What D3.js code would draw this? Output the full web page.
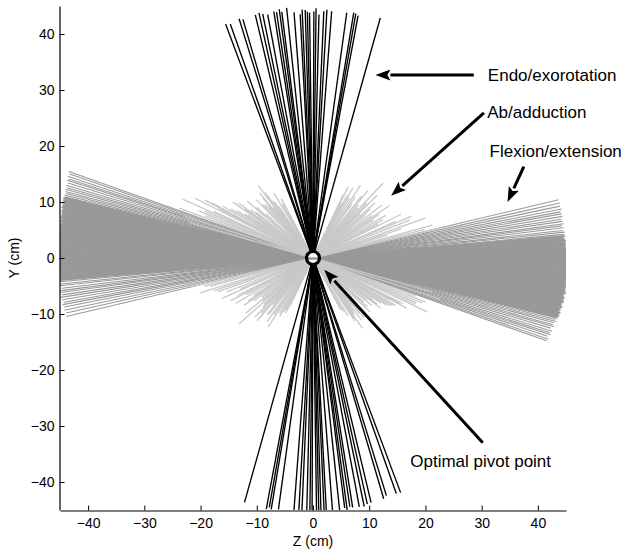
<!DOCTYPE html>
<html>
<head>
<meta charset="utf-8">
<script src="https://cdn.jsdelivr.net/npm/d3@7"></script>
<style>
  html, body { margin: 0; padding: 0; background: #fff; }
  svg { display: block; }
  text { font-family: "Liberation Sans", Arial, Helvetica, sans-serif; fill: #000; }
</style>
</head>
<body>
<svg id="chart" width="623" height="550"></svg>
<script>
// ---------------- DATA ----------------
const xTicks = [-40, -30, -20, -10, 0, 10, 20, 30, 40];
const yTicks = [-40, -30, -20, -10, 0, 10, 20, 30, 40];
const xLabel = "Z (cm)";
const yLabel = "Y (cm)";

// Flexion/extension (dark gray): slope angle in degrees, half-length to right end, half-length to left end (cm)
const flexAngle = [
  -19.6,-19.1,-18.5,-18.0,-17.6,-17.1,-16.5,-16.0,-15.6,-15.1,-14.7,-14.3,
  -13.8,-13.5,-13.3,-13.0,-12.8,-12.5,-12.3,-12.0,-11.8,-11.5,-11.2,-11.0,-10.7,-10.5,-10.2,-10.0,
  -9.7,-9.5,-9.2,-9.0,-8.7,-8.4,-8.2,-7.9,-7.7,-7.4,-7.2,
  -6.9,-6.6,-6.4,-6.1,-5.9,-5.6,-5.4,-5.1,-4.9,-4.6,-4.3,-4.1,
  -3.8,-3.6,-3.3,-3.1,-2.8,-2.5,-2.3,-2.0,-1.8,-1.5,-1.3,-1.0,-0.8,-0.5,-0.2,
  0.0,0.3,0.5,0.8,1.0,1.3,1.6,1.8,2.1,2.3,2.6,2.9,3.1,3.4,3.6,3.9,4.2,4.4,4.7,5.0,
  5.4,5.9,6.3,6.9,7.4,7.8,8.4,8.9,9.5,10.1,10.6,11.2,11.9,12.6,13.4
];
const flexRightLen = [
  44.1,44.3,44.0,44.4,44.2,44.5,44.1,44.6,44.3,44.4,44.7,44.5,
  44.8,44.6,45.0,44.7,44.9,45.1,44.6,44.8,45.0,44.7,45.2,44.9,45.0,44.8,45.1,45.3,
  44.9,45.2,45.0,45.3,45.1,44.9,45.2,45.4,45.0,45.3,45.1,
  45.2,45.4,45.0,45.3,45.1,45.4,45.2,45.0,45.3,45.4,45.1,45.2,
  45.3,45.0,45.4,45.2,45.1,45.3,45.4,45.2,45.0,45.3,45.1,45.4,45.2,45.3,45.1,
  45.2,45.4,45.0,45.3,45.1,45.2,44.9,45.3,45.0,45.2,44.8,45.1,44.9,45.0,44.7,45.1,44.8,44.9,44.6,45.0,
  44.8,45.0,44.7,44.9,44.6,45.0,44.8,44.7,45.0,44.9,44.8,45.1,44.9,45.0,44.9
];
const flexLeftLen = [
  46.1,45.8,46.0,45.7,45.9,45.6,45.8,45.5,45.7,45.6,45.4,45.6,
  45.5,45.7,45.3,45.6,45.4,45.6,45.2,45.5,45.3,45.6,45.4,45.2,45.5,45.3,45.4,45.1,
  45.4,45.2,45.5,45.1,45.3,45.4,45.2,45.0,45.3,45.2,45.4,
  45.1,45.3,45.2,45.0,45.4,45.2,45.1,45.3,45.0,45.2,45.4,45.1,
  45.2,45.0,45.3,45.1,45.4,45.2,45.0,45.3,45.1,45.2,45.4,45.0,45.3,45.1,45.2,
  45.3,45.0,45.2,45.4,45.1,45.3,45.0,45.2,45.4,45.1,45.3,45.2,45.0,45.3,45.1,45.4,45.2,45.3,45.0,45.2,
  45.3,45.1,45.4,45.0,45.2,45.3,45.1,45.4,45.2,45.0,45.3,45.1,45.2,45.0,45.1
];

// Ab/adduction (light gray): direction of upper end (deg from +Z), upper half-length, lower half-length (cm)
const abAngle = [
  13.4,15.5,17.2,19.6,21.5,24.0,26.5,28.8,30.5,32.4,34.6,36.0,37.7,39.5,41.8,43.5,45.6,47.0,49.5,52.0,54.3,57.0,58.8,60.4,62.5,63.8,64.5,
  118,121,123.5,125,127,128,129.3,129.8,131.5,134,136.5,139,141,142,143.4,145,146.4,148,150,151.3,151.7,153,154.7,155.6,157.5,159.5,162,164,
  14.5,18.3,23.0,27.5,33.5,40.5,44.5,48.3,51.0,55.5,61.5,
  119.5,124.2,126,130.5,133,138,144.2,147.2,149,152.3,156.5,158.5
];
const abUpLen = [
  23.3,22.0,13.8,21.2,18.5,16.0,17.5,14.2,15.0,12.7,16.5,13.0,15.5,12.0,14.8,11.5,13.7,18.3,12.5,14.0,11.8,15.5,12.6,14.4,11.0,14.1,12.5,
  12.0,13.5,11.0,12.5,16.2,11.5,15.0,13.9,12.8,14.5,11.5,15.5,13.0,14.0,16.5,17.4,13.9,16.0,18.5,20.4,21.9,23.6,19.5,25.5,22.0,25.4,24.0,23.0,
  20.5,16.5,19.0,13.0,14.0,13.5,16.0,12.0,15.5,13.2,12.8,
  11.0,12.0,14.5,12.0,13.0,13.5,15.0,14.5,17.0,19.0,21.0,20.5
];
const abDownLen = [
  22.5,19.0,21.1,18.0,16.5,17.7,15.0,13.5,16.0,12.5,14.9,13.0,11.5,15.5,17.7,12.0,14.8,13.5,11.0,12.8,14.0,14.7,11.5,12.0,10.5,11.0,9.5,
  10.5,12.0,13.5,15.3,12.0,14.0,11.0,13.0,12.5,11.5,14.0,12.0,13.5,12.2,15.0,13.0,14.5,16.0,17.0,15.5,19.0,18.0,22.5,20.0,21.0,19.5,23.8,22.0,
  20.0,18.5,14.0,16.5,13.8,11.8,12.5,15.0,13.0,12.2,11.0,
  11.0,13.0,12.5,14.0,12.5,13.0,14.0,15.5,16.5,17.5,20.0,21.5
];

// Endo/exorotation (black): tilt from vertical (deg, + = top leans right), top half-length, bottom half-length (cm)
const rotAngle = [-20.4,-19.4,-17.1,-16.3,-13.3,-12.4,-11.6,-10.5,-9.0,-8.4,-7.7,-7.2,-6.0,-4.4,-3.0,-2.5,-1.8,-1.3,-0.8,0.2,0.7,1.4,2.5,3.2,4.3,7.8,9.4,9.9,10.5,15.6];
const rotTopLen = [44.6,44.3,44.7,44.4,44.6,44.8,44.5,44.2,44.6,44.4,44.8,44.3,44.9,44.0,43.6,44.4,44.3,44.0,43.8,44.0,44.6,43.5,44.1,44.4,44.2,44.2,44.4,44.3,44.0,44.5];
const rotBotLen = [44.7,44.6,44.4,44.8,44.9,45.0,45.3,45.2,45.1,44.9,45.4,45.0,45.3,45.6,45.2,45.5,45.4,45.8,45.6,45.3,45.5,45.6,45.2,45.4,45.1,45.3,45.5,45.2,45.6,45.3];

// Optimal pivot point (cm)
const pivot = [0, 0];

// Annotations: label, text anchor (cm), arrow tail (cm), arrow tip (cm)
const annLabels = ["Endo/exorotation", "Ab/adduction", "Flexion/extension", "Optimal pivot point"];
const annTextPos = [[31.1, 31.6], [31.0, 25.0], [31.4, 18.0], [17.3, -37.3]];
const annTail = [[28.6, 32.7], [30.4, 25.9], [37.5, 16.3], [30.2, -33.0]];
const annTip = [[11.1, 32.7], [13.9, 11.1], [34.6, 10.0], [2.0, -2.1]];

// ---------------- DRAW ----------------
const svg = d3.select("#chart");
const x = d3.scaleLinear().domain([-45, 45]).range([60, 566]);
const y = d3.scaleLinear().domain([-45, 45]).range([510, 6]);
const rad = d => d * Math.PI / 180;

svg.append("defs").append("clipPath").attr("id", "plotclip")
  .append("rect").attr("x", x(-45)).attr("y", y(45))
  .attr("width", x(45) - x(-45)).attr("height", y(-45) - y(45));

const plot = svg.append("g").attr("clip-path", "url(#plotclip)");

// dark gray: flexion/extension (denser core drawn a bit wider)
plot.append("g").selectAll("line").data(flexAngle).join("line")
  .attr("x1", (a, i) => x(-flexLeftLen[i] * Math.cos(rad(a))))
  .attr("y1", (a, i) => y(-flexLeftLen[i] * Math.sin(rad(a))))
  .attr("x2", (a, i) => x(flexRightLen[i] * Math.cos(rad(a))))
  .attr("y2", (a, i) => y(flexRightLen[i] * Math.sin(rad(a))))
  .attr("stroke", "#999999")
  .attr("stroke-width", a => (a >= -13.9 && a <= 5.1) ? 2.0 : 1.1);

// light gray: ab/adduction
plot.append("g").selectAll("line").data(abAngle).join("line")
  .attr("x1", (a, i) => x(abUpLen[i] * Math.cos(rad(a))))
  .attr("y1", (a, i) => y(abUpLen[i] * Math.sin(rad(a))))
  .attr("x2", (a, i) => x(-abDownLen[i] * Math.cos(rad(a))))
  .attr("y2", (a, i) => y(-abDownLen[i] * Math.sin(rad(a))))
  .attr("stroke", "#c8c8c8").attr("stroke-width", 1.3);

// black: endo/exorotation
plot.append("g").selectAll("line").data(rotAngle).join("line")
  .attr("x1", (a, i) => x(rotTopLen[i] * Math.sin(rad(a))))
  .attr("y1", (a, i) => y(rotTopLen[i] * Math.cos(rad(a))))
  .attr("x2", (a, i) => x(-rotBotLen[i] * Math.sin(rad(a))))
  .attr("y2", (a, i) => y(-rotBotLen[i] * Math.cos(rad(a))))
  .attr("stroke", "#000").attr("stroke-width", 1.35);

// pivot marker
const pg = svg.append("g");
pg.append("circle").attr("cx", x(pivot[0])).attr("cy", y(pivot[1])).attr("r", 6.5)
  .attr("fill", "#fff");
pg.append("line").attr("x1", x(pivot[0]) - 6).attr("x2", x(pivot[0]) + 6)
  .attr("y1", y(pivot[1]) + 0.5).attr("y2", y(pivot[1]) + 0.5)
  .attr("stroke", "#999999").attr("stroke-width", 2.5);
pg.append("circle").attr("cx", x(pivot[0])).attr("cy", y(pivot[1])).attr("r", 6.5)
  .attr("fill", "none").attr("stroke", "#000").attr("stroke-width", 3.2);

// axes
const fmt = d => d < 0 ? "\u2212" + Math.abs(d) : String(d);
const xAxis = svg.append("g").attr("transform", `translate(0,${y(-45) + 0.5})`)
  .call(d3.axisBottom(x).tickValues(xTicks).tickFormat(fmt).tickSize(-5).tickSizeOuter(0).tickPadding(8));
const yAxis = svg.append("g").attr("transform", `translate(${x(-45) - 0.5},0)`)
  .call(d3.axisLeft(y).tickValues(yTicks).tickFormat(fmt).tickSize(-5).tickSizeOuter(0).tickPadding(5));
[xAxis, yAxis].forEach(g => {
  g.select(".domain").attr("stroke", "#000").attr("stroke-width", 1.2);
  g.selectAll(".tick line").attr("stroke", "#000").attr("stroke-width", 1);
  g.selectAll(".tick text").attr("font-size", 14)
    .attr("font-family", "'Liberation Sans', Arial, Helvetica, sans-serif").attr("fill", "#000");
});

svg.append("text").attr("x", x(0)).attr("y", 546).attr("text-anchor", "middle")
  .attr("font-size", 14).text(xLabel);
svg.append("text").attr("transform", `translate(19,${y(0)}) rotate(-90)`)
  .attr("text-anchor", "middle").attr("font-size", 14).text(yLabel);

// annotations
const ag = svg.append("g");
annLabels.forEach((lab, i) => {
  ag.append("text").attr("x", x(annTextPos[i][0])).attr("y", y(annTextPos[i][1]))
    .attr("font-size", 17).text(lab);
  const tx = x(annTail[i][0]), ty = y(annTail[i][1]);
  const hx = x(annTip[i][0]), hy = y(annTip[i][1]);
  const ang = Math.atan2(hy - ty, hx - tx);
  const headL = 15, headW = 5.5;
  const bx = hx - headL * Math.cos(ang), by = hy - headL * Math.sin(ang);
  ag.append("line").attr("x1", tx).attr("y1", ty).attr("x2", bx).attr("y2", by)
    .attr("stroke", "#000").attr("stroke-width", 3);
  const px = -Math.sin(ang) * headW, py = Math.cos(ang) * headW;
  ag.append("path")
    .attr("d", `M${hx},${hy}L${bx + px},${by + py}L${bx + 3 * Math.cos(ang)},${by + 3 * Math.sin(ang)}L${bx - px},${by - py}Z`)
    .attr("fill", "#000");
});
</script>
</body>
</html>
